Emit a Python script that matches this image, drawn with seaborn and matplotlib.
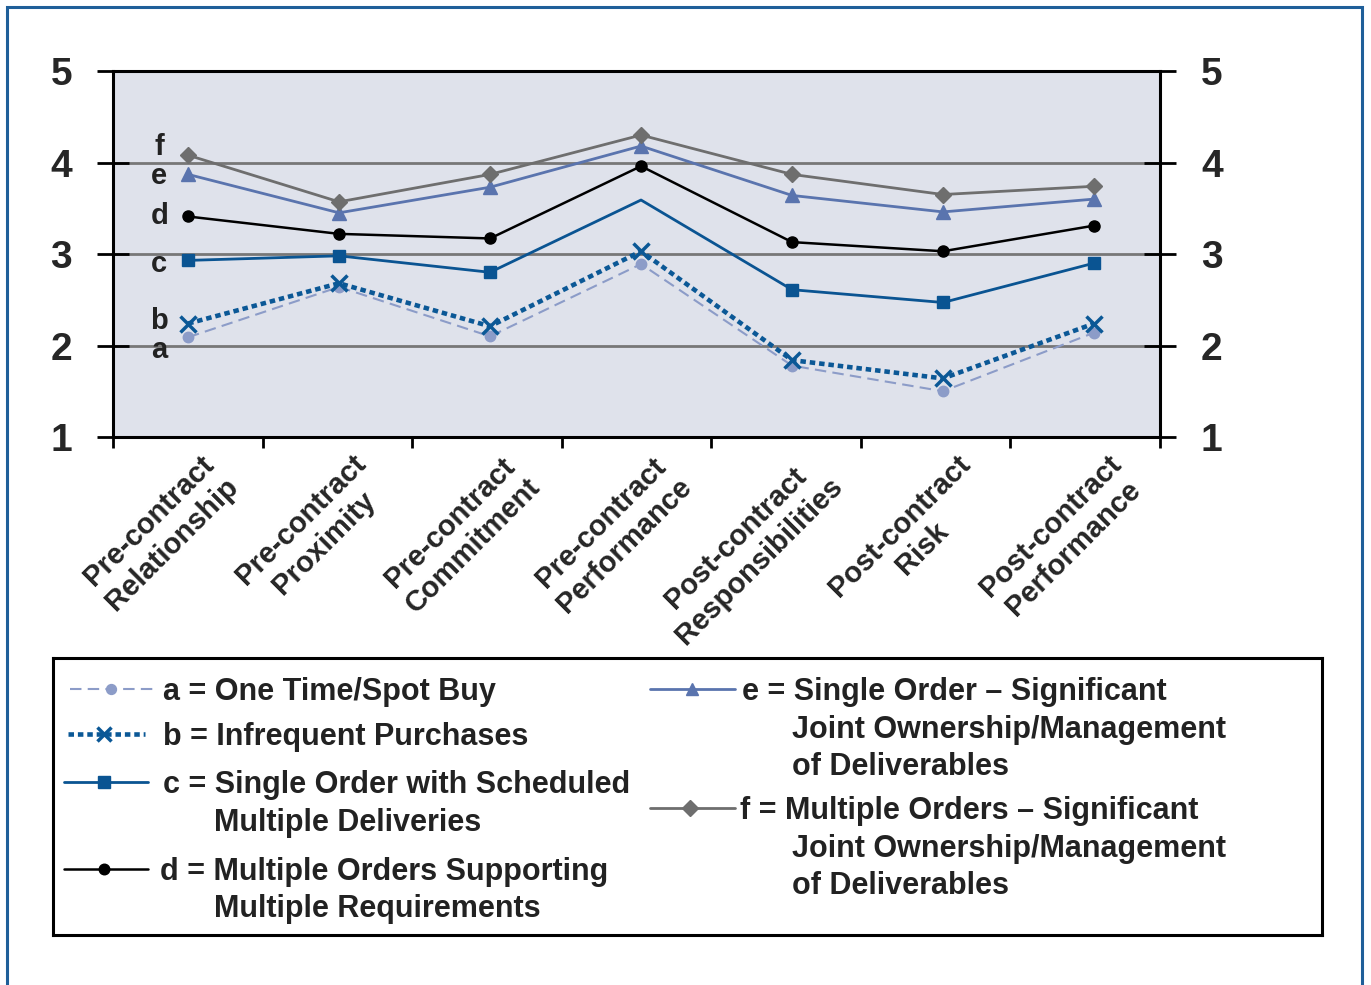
import numpy as np
import pandas as pd
import matplotlib
matplotlib.use("Agg")
import matplotlib.pyplot as plt
from matplotlib.lines import Line2D
from matplotlib.transforms import ScaledTranslation
import seaborn as sns

# ---------------- data ----------------
categories = ["Pre-contract\nRelationship", "Pre-contract\nProximity",
              "Pre-contract\nCommitment", "Pre-contract\nPerformance",
              "Post-contract\nResponsibilities", "Post-contract\nRisk",
              "Post-contract\nPerformance"]

a_spot = [2.09, 2.64, 2.10, 2.89, 1.78, 1.50, 2.14]
b_infrequent = [2.24, 2.68, 2.21, 3.03, 1.84, 1.64, 2.24]
c_scheduled = [2.93, 2.98, 2.80, 3.59, 2.61, 2.47, 2.90]
d_multiple = [3.41, 3.22, 3.17, 3.96, 3.13, 3.03, 3.31]
e_single_joint = [3.87, 3.45, 3.73, 4.18, 3.64, 3.46, 3.60]
f_multiple_joint = [4.08, 3.57, 3.87, 4.30, 3.87, 3.65, 3.74]

series_keys = ["a", "b", "c", "d", "e", "f"]
series_values = [a_spot, b_infrequent, c_scheduled, d_multiple, e_single_joint, f_multiple_joint]
series_labels = ["a = One Time/Spot Buy",
                 "b = Infrequent Purchases",
                 "c = Single Order with Scheduled\nMultiple Deliveries",
                 "d = Multiple Orders Supporting\nMultiple Requirements",
                 "e = Single Order \u2013 Significant\nJoint Ownership/Management\nof Deliverables",
                 "f = Multiple Orders \u2013 Significant\nJoint Ownership/Management\nof Deliverables"]

rows = []
for key, vals in zip(series_keys, series_values):
    for i, v in enumerate(vals):
        rows.append({"series": key, "pos": i, "value": v})
df = pd.DataFrame(rows)

# ---------------- styles ----------------
styles = {
    "a": dict(color="#8c9cc8", marker="o", ms=7.5, lw=1.5, ls=(0, (5.5, 3))),
    "b": dict(color="#0b5896", marker="x", ms=11, lw=3.3, ls=(0, (1.2, 0.85)), mew=2.5),
    "c": dict(color="#0a5492", marker="s", ms=8.5, lw=2.0, ls="-"),
    "d": dict(color="#000000", marker="o", ms=8, lw=1.8, ls="-"),
    "e": dict(color="#5a74ae", marker="^", ms=9.5, lw=2.0, ls="-"),
    "f": dict(color="#6e6e6e", marker="D", ms=8.5, lw=2.0, ls="-"),
}

sns.set_theme(style="white")
plt.rcParams["font.family"] = ["Liberation Sans", "DejaVu Sans"]
plt.rcParams["font.weight"] = "bold"

fig = plt.figure(figsize=(13.71, 9.85), dpi=100)
W, H = 1371, 985
ax = fig.add_axes([113 / W, (H - 437) / H, 1047 / W, 366 / H])
ax.set_facecolor("#dfe2eb")

for key in series_keys:
    st = styles[key]
    sub = df[df.series == key]
    extra = {}
    if key == "c":
        extra["markevery"] = [0, 1, 2, 4, 5, 6]
    sns.lineplot(data=sub, x="pos", y="value", ax=ax, color=st["color"],
                 marker=st["marker"], markersize=st["ms"], linewidth=st["lw"],
                 linestyle=st["ls"], markeredgecolor=st["color"],
                 markerfacecolor=st["color"] if st["marker"] != "x" else "none",
                 markeredgewidth=st.get("mew", 1.0), legend=False, zorder=3,
                 dash_capstyle="butt", **extra)

# letter labels next to first points
letter_y = {"f": 4.17, "e": 3.85, "d": 3.41, "c": 2.89, "b": 2.27, "a": 1.95}
for k, yv in letter_y.items():
    ax.text(-0.19, yv, k, ha="center", va="center", fontsize=21,
            fontweight="bold", color="#222222", zorder=4)

xmin, xmax = -0.497, 6.437
ax.set_xlim(xmin, xmax)
ax.set_ylim(1, 5)
ax.set_xlabel("")
ax.set_ylabel("")
ax.set_yticks([1, 2, 3, 4, 5])
ax.yaxis.grid(True, color="#777777", linewidth=2)
ax.xaxis.grid(False)
ax.set_axisbelow(True)
for sp in ax.spines.values():
    sp.set_color("black")
    sp.set_linewidth(2.2)

ax.tick_params(axis="y", which="major", left=True, right=True, labelleft=True,
               labelright=True, direction="inout", length=23, width=2,
               color="black", pad=18, labelsize=28)
for lab in ax.get_yticklabels():
    lab.set_fontweight("bold")

ax.set_xticks(range(len(categories)))
ax.set_xticklabels(categories, rotation=45, ha="right", va="top",
                   rotation_mode="anchor", multialignment="center",
                   fontsize=21, fontweight="bold")
# category boundary ticks, evenly spaced along the axis
ax.set_xticks(np.linspace(xmin, xmax, len(categories) + 1), minor=True)
ax.tick_params(axis="x", which="major", length=0, pad=9)
ax.tick_params(axis="x", which="minor", bottom=True, direction="out",
               length=8, width=2, color="black")
offset = ScaledTranslation(0.13, 0, fig.dpi_scale_trans)
for lab in ax.get_xticklabels():
    lab.set_transform(lab.get_transform() + offset)

# ---------------- legend box (pixel-like coordinates) ----------------
lx0, lx1, ly0, ly1 = 53, 1322, 658, 935
lax = fig.add_axes([lx0 / W, (H - ly1) / H, (lx1 - lx0) / W, (ly1 - ly0) / H])
lax.set_xlim(lx0, lx1)
lax.set_ylim(ly1, ly0)
lax.set_xticks([])
lax.set_yticks([])
lax.set_facecolor("white")
for sp in lax.spines.values():
    sp.set_color("black")
    sp.set_linewidth(2.2)

# handle geometry: (x_start, x_end, x_marker, y_row)
handle_geo = {
    "a": (70, 153, 111, 689),
    "b": (68, 145, 104, 734),
    "c": (64, 148, 104, 782),
    "d": (64, 148, 104, 869),
    "e": (650, 735, 692, 689),
    "f": (650, 735, 690, 808),
}
text_geo = {
    "a": (163, 214), "b": (163, 214), "c": (163, 214), "d": (160, 214),
    "e": (742, 792), "f": (740, 792),
}
line_gap = 37.5
for key, label in zip(series_keys, series_labels):
    st = styles[key]
    x0, x1, xm, yr = handle_geo[key]
    lax.add_line(Line2D([x0, x1], [yr, yr], color=st["color"], lw=st["lw"],
                        ls=st["ls"], dash_capstyle="butt"))
    lax.add_line(Line2D([xm], [yr], color=st["color"], marker=st["marker"],
                        ms=st["ms"] * 0.95, mec=st["color"],
                        mfc=st["color"] if st["marker"] != "x" else "none",
                        mew=st.get("mew", 1.0), ls="none"))
    tx, tx2 = text_geo[key]
    for j, part in enumerate(label.split("\n")):
        lax.text(tx if j == 0 else tx2, yr + 11 + j * line_gap, part,
                 ha="left", va="baseline", fontsize=22, fontweight="bold",
                 color="#222222")

# outer blue frame
fig.add_artist(plt.Rectangle((7 / W, -0.05), (1362 - 7) / W, 0.05 + (H - 7) / H,
                             transform=fig.transFigure, fill=False,
                             edgecolor="#1f5f99", linewidth=2.2))

fig.savefig("out.png", dpi=100)
